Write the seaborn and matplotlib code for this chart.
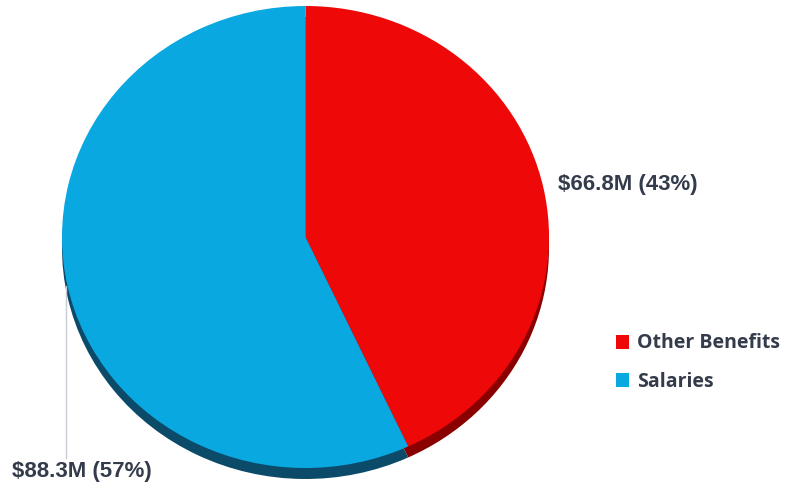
import matplotlib
matplotlib.use("Agg")
import matplotlib.pyplot as plt
from matplotlib.lines import Line2D
from matplotlib.patches import Patch
import seaborn as sns

categories = ["Other Benefits", "Salaries"]
values = [66.8, 88.3]  # $M
colors = ["#EE0808", "#0AA8E1"]
shadow_colors = ["#8A0000", "#0B4A68"]

sns.set_theme(style="white")
plt.rcParams['font.family'] = ['Liberation Sans', 'DejaVu Sans']

W, H = 788, 490
fig = plt.figure(figsize=(W / 100, H / 100), dpi=100)

# pie face: x 62..549, y 6..468 (pixels from top)
left, right, top, bottom = 62, 549, 6, 468
ax = fig.add_axes([left / W, (H - bottom) / H, (right - left) / W, (bottom - top) / H])

total = sum(values)
ry_px = (bottom - top) / 2
shadow_off = 11 / ry_px

sw, _ = ax.pie(values, colors=shadow_colors, startangle=90, counterclock=False,
               center=(0, -shadow_off), wedgeprops=dict(linewidth=0))
for w in sw:
    w.set_clip_on(False)
    w.set_zorder(1)
wedges, _ = ax.pie(values, colors=colors, startangle=90, counterclock=False,
                   wedgeprops=dict(linewidth=0))
for w in wedges:
    w.set_clip_on(False)
    w.set_zorder(2)
ax.set_aspect('auto')
ax.set_xlim(-1, 1)
ax.set_ylim(-1, 1)
ax.axis('off')

txt_color = "#343C4C"
labels = [f"${v:.1f}M ({v / total * 100:.0f}%)" for v in values]
fig.text(558 / W, 1 - 184 / H, labels[0], fontsize=16, fontweight='bold',
         color=txt_color, ha='left', va='center')
fig.text(12 / W, 1 - 471 / H, labels[1], fontsize=16, fontweight='bold',
         color=txt_color, ha='left', va='center')
fig.add_artist(Line2D([66 / W, 66 / W], [1 - 286 / H, 1 - 458 / H],
                      transform=fig.transFigure, color="#C9CBD3", lw=1))

handles = [Patch(facecolor=c, edgecolor='none') for c in colors]
leg = fig.legend(handles, categories, loc='upper left',
                 bbox_to_anchor=(598 / W, 1 - 316 / H), frameon=False,
                 prop=dict(family=['Open Sans', 'DejaVu Sans'], weight='bold', size=14),
                 handlelength=0.7, handleheight=0.7, handletextpad=0.4,
                 labelspacing=0.95)
for t in leg.get_texts():
    t.set_color(txt_color)

fig.savefig("out.png", dpi=100)
